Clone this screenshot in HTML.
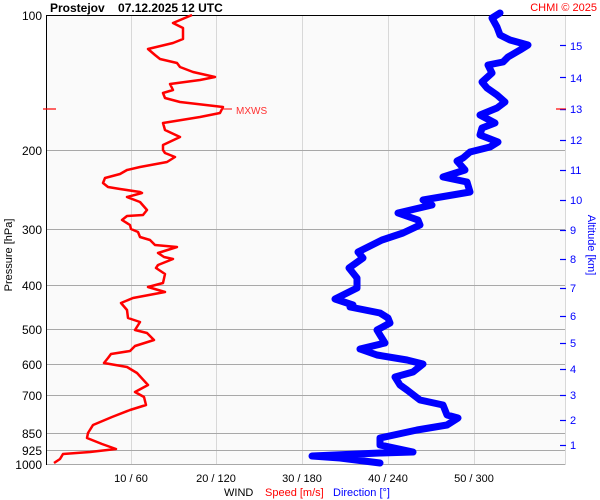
<!DOCTYPE html>
<html><head><meta charset="utf-8"><style>
html,body{margin:0;padding:0;background:#fff;}
svg{display:block;font-family:"Liberation Sans",sans-serif;}
</style></head><body>
<svg width="600" height="500" viewBox="0 0 600 500" xmlns="http://www.w3.org/2000/svg">
<rect x="0" y="0" width="600" height="500" fill="#fff"/>
<rect x="46" y="15" width="519" height="450" fill="#fafafa"/>
<g stroke="#d8d8d8" stroke-width="1">
<line x1="131.5" y1="15" x2="131.5" y2="465"/>
<line x1="216.5" y1="15" x2="216.5" y2="465"/>
<line x1="302.5" y1="15" x2="302.5" y2="465"/>
<line x1="388.5" y1="15" x2="388.5" y2="465"/>
<line x1="474.5" y1="15" x2="474.5" y2="465"/>
<line x1="565.5" y1="15" x2="565.5" y2="465"/>
</g>
<g stroke="#a8a8a8" stroke-width="1">
<line x1="46" y1="150.5" x2="565" y2="150.5"/>
<line x1="46" y1="229.5" x2="565" y2="229.5"/>
<line x1="46" y1="285.5" x2="565" y2="285.5"/>
<line x1="46" y1="329.5" x2="565" y2="329.5"/>
<line x1="46" y1="364.5" x2="565" y2="364.5"/>
<line x1="46" y1="395.5" x2="565" y2="395.5"/>
<line x1="46" y1="433.5" x2="565" y2="433.5"/>
<line x1="46" y1="450.5" x2="565" y2="450.5"/>
<line x1="46" y1="464.5" x2="565" y2="464.5"/>
</g>
<line x1="46.5" y1="15" x2="46.5" y2="465" stroke="#000"/>
<line x1="46" y1="15.5" x2="591" y2="15.5" stroke="#000"/>
<g font-size="12" fill="#000" text-anchor="end">
<text x="42" y="20">100</text><text x="42" y="155">200</text><text x="42" y="234">300</text>
<text x="42" y="290">400</text><text x="42" y="334">500</text><text x="42" y="369">600</text>
<text x="42" y="400">700</text><text x="42" y="438">850</text><text x="42" y="455">925</text>
<text x="42" y="469">1000</text>
</g>
<text transform="translate(12,255) rotate(-90)" font-size="11" text-anchor="middle">Pressure [hPa]</text>
<g stroke="#0000ff" stroke-width="1.2">
<line x1="560" y1="45.5" x2="566" y2="45.5"/><line x1="560" y1="77.5" x2="566" y2="77.5"/>
<line x1="560" y1="140.5" x2="566" y2="140.5"/><line x1="560" y1="170.5" x2="566" y2="170.5"/>
<line x1="560" y1="200.5" x2="566" y2="200.5"/><line x1="560" y1="230.5" x2="566" y2="230.5"/>
<line x1="560" y1="259.5" x2="566" y2="259.5"/><line x1="560" y1="288.5" x2="566" y2="288.5"/>
<line x1="560" y1="316.5" x2="566" y2="316.5"/><line x1="560" y1="343.5" x2="566" y2="343.5"/>
<line x1="560" y1="369.5" x2="566" y2="369.5"/><line x1="560" y1="395.5" x2="566" y2="395.5"/>
<line x1="560" y1="420.5" x2="566" y2="420.5"/><line x1="560" y1="445.5" x2="566" y2="445.5"/>
</g>
<line x1="556" y1="109" x2="566" y2="109" stroke="#ff0000" stroke-width="1.2"/>
<line x1="560" y1="109.8" x2="566" y2="109.8" stroke="#0000ff" stroke-width="0.8"/>
<g font-size="11" fill="#0000ff">
<text x="570" y="50">15</text><text x="570" y="82">14</text><text x="570" y="113">13</text>
<text x="570" y="144">12</text><text x="570" y="174">11</text><text x="570" y="204">10</text>
<text x="570" y="234">9</text><text x="570" y="263">8</text><text x="570" y="292">7</text>
<text x="570" y="320">6</text><text x="570" y="347">5</text><text x="570" y="373">4</text>
<text x="570" y="399">3</text><text x="570" y="424">2</text><text x="570" y="449">1</text>
</g>
<text transform="translate(588,245) rotate(90)" font-size="11" fill="#0000ff" text-anchor="middle">Altitude [km]</text>
<line x1="43" y1="109" x2="56" y2="109" stroke="#ff0000" stroke-width="1.2"/>
<line x1="222" y1="109" x2="232" y2="109" stroke="#ff0000" stroke-width="1"/>
<text x="236" y="114" font-size="10" fill="#ff3030">MXWS</text>
<polyline fill="none" stroke="#0000ff" stroke-width="7" stroke-linejoin="round" stroke-linecap="round" points="500,13 492,18 497,27 500,35 510,40 528,45 520,50 508,57 503,62 488,65 492,73 482,82 487,88 497,95 505,102 497,108 480,115 495,123 482,128 480,135 498,142 490,147 470,152 463,158 457,161 465,170 443,177 467,182 470,192 423,200 432,205 398,213 418,220 420,225 403,233 382,240 370,246 358,252 363,258 349,268 357,278 357,288 335,299 353,305 350,307 380,313 388,318 390,323 377,330 380,335 385,343 360,349 377,355 407,360 423,364 413,372 395,377 400,385 407,390 420,400 443,405 447,415 458,418 447,425 417,430 380,438 380,445 413,452 380,453 312,456 340,458 380,463"/>
<polyline fill="none" stroke="#ff0000" stroke-width="2.5" stroke-linejoin="round" points="192,15 173,23 183,28 183,39 173,43 148,49 155,55 160,59 177,63 180,67 193,72 215,77 200,80 170,84 173,90 163,93 165,98 180,102 223,107 220,113 200,117 163,123 165,130 180,137 163,145 163,150 165,153 175,157 167,162 140,167 127,170 120,174 105,178 103,183 108,187 120,189 140,192 142,193 127,197 140,202 147,210 143,215 127,216 122,220 130,225 131,229 138,232 140,237 150,240 155,245 177,247 158,253 164,257 173,259 158,265 156,268 165,274 163,283 148,287 165,292 133,298 121,303 127,310 128,318 140,322 135,330 147,333 154,340 135,346 130,351 111,354 108,358 104,363 127,367 137,373 148,385 135,392 144,397 146,405 130,410 112,417 93,425 88,433 87,438 102,444 116,449 90,452 63,454 60,459 54,463"/>
<text x="50" y="12" font-size="12" font-weight="bold" xml:space="preserve">Prostejov    07.12.2025 12 UTC</text>
<text x="597" y="11" font-size="11" fill="#ff0000" text-anchor="end">CHMI © 2025</text>
<g font-size="11" text-anchor="middle">
<text x="131" y="482">10 / 60</text><text x="216" y="482">20 / 120</text>
<text x="302" y="482">30 / 180</text><text x="388" y="482">40 / 240</text>
<text x="474" y="482">50 / 300</text>
</g>
<text x="224" y="496" font-size="11">WIND</text>
<text x="265" y="496" font-size="11" fill="#ff0000">Speed [m/s]</text>
<text x="333" y="496" font-size="11" fill="#0000ff">Direction [°]</text>
</svg>
</body></html>
